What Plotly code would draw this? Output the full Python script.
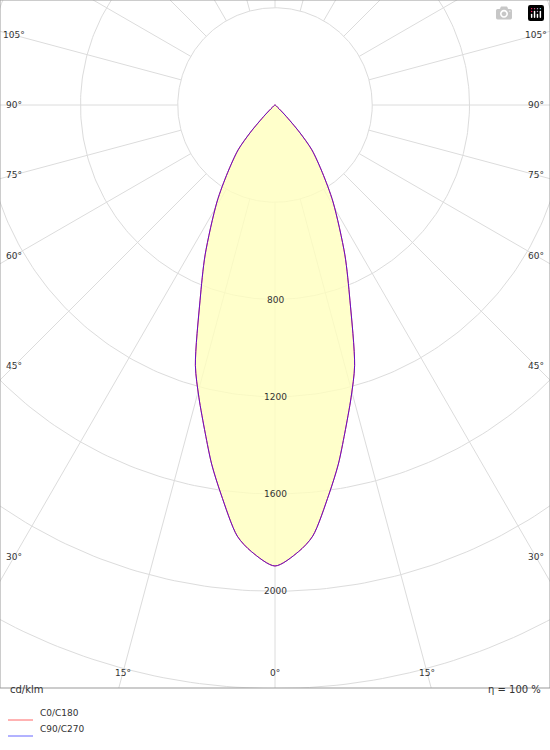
import numpy as np
import plotly.graph_objects as go

angles = [0, 3, 5, 7.9, 10, 12, 14.6, 17, 21, 25, 30.9, 35, 39.4, 42, 45, 48, 50]
intens = [1896, 1840, 1780, 1616, 1500, 1380, 1242, 1120, 860, 680, 465, 340, 239, 150, 58, 15, 0]
ring_vals = [400, 800, 1200, 1600, 2000, 2400, 2800, 3200]
ring_labels = ["800", "1200", "1600", "2000"]
spoke_angles = list(range(0, 360, 15))
deg_labels = [105, 90, 75, 60, 45, 30]
bottom_labels = [15, 0]
names = ["C0/C180", "C90/C270"]

S = 97.25 / 400.0
W, H = 550, 750
PB = 688  # plot bottom px
CX, CY = 275, 105

a = np.radians(np.concatenate([-np.array(angles[::-1]), np.array(angles[1:])]))
r = np.concatenate([np.array(intens[::-1]), np.array(intens[1:])]) * S
cx = r * np.sin(a)
cy = -r * np.cos(a)

fig = go.Figure()
t = np.linspace(0, 2 * np.pi, 400)
for rv in ring_vals:
    fig.add_trace(go.Scatter(x=rv * S * np.cos(t), y=rv * S * np.sin(t), mode="lines",
                             line=dict(color="#dcdcdc", width=1), hoverinfo="skip"))
for sa in spoke_angles:
    th = np.radians(sa)
    fig.add_trace(go.Scatter(x=[400 * S * np.sin(th), 5000 * S * np.sin(th)],
                             y=[-400 * S * np.cos(th), -5000 * S * np.cos(th)], mode="lines",
                             line=dict(color="#dcdcdc", width=1), hoverinfo="skip"))
fig.add_trace(go.Scatter(x=cx, y=cy, mode="lines", fill="toself", fillcolor="rgba(255,255,190,0.8)",
                         line=dict(color="#ff4444", width=1, shape="spline", smoothing=0.8), hoverinfo="skip"))
fig.add_trace(go.Scatter(x=cx, y=cy, mode="lines",
                         line=dict(color="rgba(60,0,230,0.8)", width=1, shape="spline", smoothing=0.8),
                         hoverinfo="skip"))

ann = []
for lbl in ring_labels:
    v = float(lbl)
    ann.append(dict(x=0, y=-v * S, text=lbl, showarrow=False, font=dict(size=9, color="#333")))
for d in deg_labels:
    th = np.radians(d)
    y = -261 / np.tan(th)
    for xx in [-261, 261]:
        ann.append(dict(x=xx, y=y, text=f"{d}°", showarrow=False, font=dict(size=9, color="#333")))
for d in bottom_labels:
    xx = 568 * np.tan(np.radians(d))
    for sgn in ([-1, 1] if d else [1]):
        ann.append(dict(x=sgn * xx, y=-568, text=f"{d}°", showarrow=False, font=dict(size=9, color="#333")))

pf = dict(size=10, color="#333", family="DejaVu Sans")
ann += [
    dict(xref="paper", yref="paper", x=8 / W, y=1 - 697 / H, text="cd/klm", showarrow=False, xanchor="left", font=pf),
    dict(xref="paper", yref="paper", x=543 / W, y=1 - 697 / H, text="η = 100 %", showarrow=False, xanchor="right", font=pf),
    dict(xref="paper", yref="paper", x=38 / W, y=1 - 720 / H, text=names[0], showarrow=False, xanchor="left", font=dict(size=9, color="#333")),
    dict(xref="paper", yref="paper", x=38 / W, y=1 - 736 / H, text=names[1], showarrow=False, xanchor="left", font=dict(size=9, color="#333")),
]
shapes = [
    dict(type="line", xref="paper", yref="paper", x0=8 / W, x1=33 / W, y0=1 - 720 / H, y1=1 - 720 / H, line=dict(color="#ff6666", width=1)),
    dict(type="line", xref="paper", yref="paper", x0=8 / W, x1=33 / W, y0=1 - 736 / H, y1=1 - 736 / H, line=dict(color="#6666ff", width=1)),
    dict(type="rect", xref="paper", yref="paper", x0=0, x1=1, y0=1 - PB / H, y1=1, line=dict(color="#999", width=1)),
]

fig.update_layout(
    width=W, height=H, margin=dict(l=0, r=0, t=0, b=0), showlegend=False,
    plot_bgcolor="white", paper_bgcolor="white", annotations=ann, shapes=shapes,
    font=dict(family="DejaVu Sans"),
    xaxis=dict(range=[-CX, W - CX], visible=False, domain=[0, 1], fixedrange=True),
    yaxis=dict(range=[-(PB - CY), CY], visible=False, domain=[1 - PB / H, 1], fixedrange=True),
)
fig.write_html("out.html", post_script="document.body.style.margin='0';document.body.style.overflow='hidden';")
